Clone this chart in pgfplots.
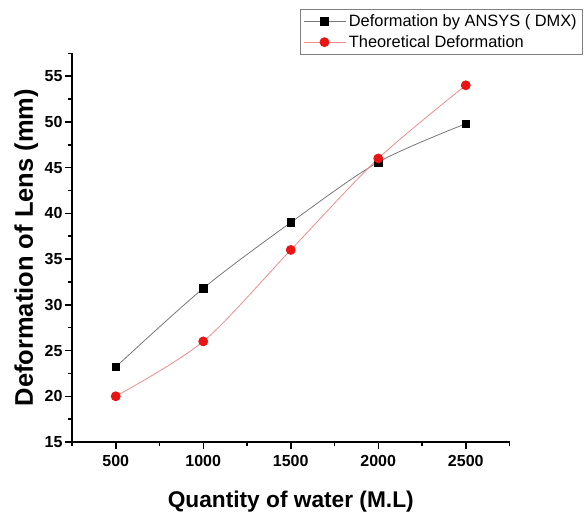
\documentclass[border=0pt]{standalone}
\usepackage{pgfplots}
\pgfplotsset{compat=1.18}
\usepackage{fontspec}
\setmainfont{Liberation Sans}

% deformation of the lens against the quantity of water
\pgfplotstableread{
water ansys theory
500   23.2  20.0
1000  31.8  26.0
1500  39.0  36.0
2000  45.6  46.0
2500  49.8  54.0
}\deformation

\definecolor{ansysline}{RGB}{120,120,120}
\definecolor{theoline}{RGB}{240,140,140}
\definecolor{theomark}{RGB}{235,20,20}

\begin{document}
\begin{tikzpicture}
\path[use as bounding box] (0pt,0pt) rectangle (586pt,515pt);
\begin{axis}[
  at={(72pt,73pt)}, anchor=south west,
  scale only axis, width=437.5pt, height=388.7pt,
  xmin=250, xmax=2750, ymin=15, ymax=57.5,
  axis lines*=left,
  axis line style={line width=1.6pt},
  xtick={500,1000,...,2500},
  minor xtick={250,750,...,2750},
  ytick={15,20,...,55},
  minor ytick={17.5,22.5,...,57.5},
  tick align=outside,
  major tick length=7pt, minor tick length=4pt,
  every tick/.style={black, line width=1.5pt},
  /pgf/number format/assume math mode=true,
  /pgf/number format/set thousands separator={},
  xticklabel style={font=\bfseries\fontsize{16}{16}\selectfont, yshift=-3pt},
  yticklabel style={font=\bfseries\fontsize{16}{16}\selectfont, xshift=1pt},
  xlabel={Quantity of water (M.L)},
  ylabel={Deformation of Lens (mm)},
  xlabel style={font=\bfseries\fontsize{22.7}{24}\selectfont,
    at={(axis description cs:0.5,0)}, anchor=base, yshift=-65pt},
  ylabel style={font=\bfseries\fontsize{25.5}{26}\selectfont,
    at={(axis description cs:0,0.5)}, anchor=base, yshift=39pt},
  legend style={at={(axis description cs:1,1)}, anchor=north east,
    xshift=73.5pt, yshift=44pt, draw=gray, line width=0.6pt,
    font=\fontsize{16.4}{19}\selectfont, row sep=3.5pt,
    inner xsep=4pt, inner ysep=3pt},
  legend cell align=left,
  legend image code/.code={
    \path (-2pt,0pt) -- (40pt,0pt);
    \draw[mark repeat=2,mark phase=2] plot coordinates {(0pt,0pt)(18pt,0pt)(36pt,0pt)};},
]
\addplot[ansysline, line width=0.8pt, smooth, mark=square*,
  mark size=3.8pt, mark options={draw=black, fill=black}]
  table[x=water, y=ansys] {\deformation};
\addlegendentry{Deformation by ANSYS ( DMX)}
\addplot[theoline, line width=0.8pt, smooth, mark=*,
  mark size=4.5pt, mark options={draw=theomark, fill=theomark}]
  table[x=water, y=theory] {\deformation};
\addlegendentry{Theoretical Deformation}
\end{axis}
\end{tikzpicture}
\end{document}
